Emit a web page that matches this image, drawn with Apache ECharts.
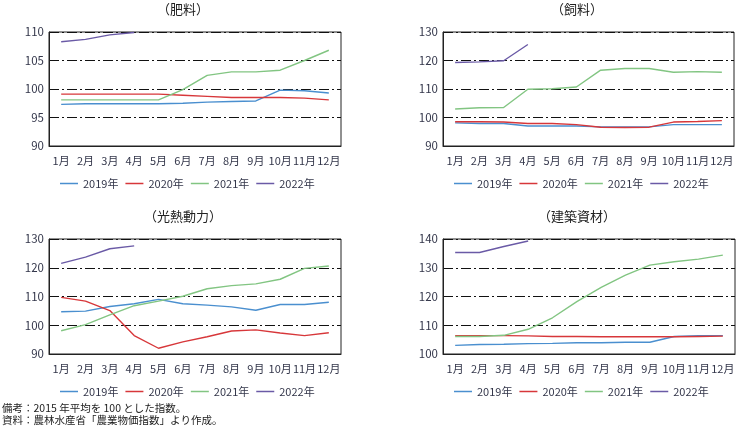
<!DOCTYPE html>
<html>
<head>
<meta charset="utf-8">
<script src="https://cdn.jsdelivr.net/npm/echarts@6/dist/echarts.min.js"></script>
<style>
    html, body { margin: 0; padding: 0; background: #fff; }
    #chart { width: 738px; height: 428px; }
</style>
</head>
<body>
<div id="chart"></div>
<script>
var months = ['1月','2月','3月','4月','5月','6月','7月','8月','9月','10月','11月','12月'];
var years = ['2019年','2020年','2021年','2022年'];
var colors = ['#4a8fcf','#d7373a','#82c582','#6a5aa6'];

// 肥料
var hiryo2019 = [97.3,97.4,97.4,97.4,97.4,97.5,97.7,97.8,97.9,99.8,99.7,99.3];
var hiryo2020 = [99.1,99.1,99.1,99.1,99.1,98.9,98.7,98.5,98.5,98.5,98.4,98.1];
var hiryo2021 = [98.1,98.1,98.1,98.1,98.1,99.9,102.4,103.0,103.0,103.3,105.0,106.8];
var hiryo2022 = [108.3,108.7,109.5,109.9];

// 飼料
var shiryo2019 = [98.1,97.9,97.9,97.0,97.0,97.0,96.7,96.7,96.7,97.5,97.5,97.5];
var shiryo2020 = [98.5,98.5,98.4,97.9,97.9,97.5,96.6,96.5,96.6,98.4,98.6,98.9];
var shiryo2021 = [103.0,103.4,103.5,109.9,110.1,110.7,116.6,117.2,117.2,115.9,116.1,115.9];
var shiryo2022 = [119.3,119.5,119.9,125.6];

// 光熱動力
var kone2019 = [104.7,104.9,106.5,107.5,109.0,107.5,107.0,106.4,105.2,107.2,107.2,108.0];
var kone2020 = [109.7,108.4,105.1,96.4,92.0,94.2,96.0,98.0,98.4,97.3,96.4,97.4];
var kone2021 = [98.1,100.2,103.6,106.8,108.4,110.1,112.7,113.8,114.4,116.0,119.8,120.6];
var kone2022 = [121.5,123.7,126.6,127.6];

// 建築資材
var kenchiku2019 = [103.0,103.3,103.4,103.6,103.7,103.9,103.9,104.1,104.1,106.1,106.4,106.4];
var kenchiku2020 = [106.4,106.4,106.4,106.3,106.1,106.1,106.0,106.0,106.0,106.0,106.1,106.2];
var kenchiku2021 = [106.1,106.1,106.5,108.6,112.6,118.2,123.2,127.4,130.9,132.1,133.0,134.4];
var kenchiku2022 = [135.3,135.3,137.4,139.3];

var yMin = [90, 90, 90, 100];
var yMax = [110, 130, 130, 140];
var yStep = [5, 10, 10, 10];
var titles = ['（肥料）','（飼料）','（光熱動力）','（建築資材）'];
var panelData = [
    [hiryo2019, hiryo2020, hiryo2021, hiryo2022],
    [shiryo2019, shiryo2020, shiryo2021, shiryo2022],
    [kone2019, kone2020, kone2021, kone2022],
    [kenchiku2019, kenchiku2020, kenchiku2021, kenchiku2022]
];

var font = '"Noto Sans CJK JP", "Noto Sans", sans-serif';
var textColor = '#33364a';
var grids = [
    {left: 49, top: 32, width: 292, height: 114},
    {left: 443, top: 32, width: 291, height: 114},
    {left: 49, top: 239, width: 292, height: 115},
    {left: 443, top: 239, width: 292, height: 115}
];
var titlePos = [[183, 3], [577, 3], [183, 210], [577, 210]];
var legendPos = [[60, 178], [454, 178], [60, 386], [454, 386]];

var option = {
    animation: false,
    textStyle: { fontFamily: font },
    title: [],
    legend: [],
    grid: [],
    xAxis: [],
    yAxis: [],
    series: [],
    graphic: [{
        type: 'text', left: 2, top: 402,
        style: {
            text: '備考：2015 年平均を 100 とした指数。\n資料：農林水産省「農業物価指数」より作成。',
            font: '10.5px ' + font, fill: '#222', lineHeight: 12
        }
    }]
};

grids.forEach(function (g, i) {
    option.grid.push({
        left: g.left, top: g.top, width: g.width, height: g.height,
        show: true, borderColor: '#222', borderWidth: 1, backgroundColor: 'transparent'
    });
    option.title.push({
        text: titles[i], left: titlePos[i][0], top: titlePos[i][1], textAlign: 'center', padding: 0,
        textStyle: { fontSize: 13, fontWeight: 'normal', color: '#222', fontFamily: font }
    });
    option.legend.push({
        data: years, left: legendPos[i][0], top: legendPos[i][1], padding: 0,
        icon: 'rect', itemWidth: 18, itemHeight: 1.5, itemGap: 7,
        textStyle: { fontSize: 11, color: textColor, fontFamily: font }
    });
    option.xAxis.push({
        type: 'category', gridIndex: i, data: months, boundaryGap: true,
        axisLine: { lineStyle: { color: '#222' } },
        axisTick: { show: false },
        axisLabel: { color: textColor, fontSize: 11, margin: 9, interval: 0 }
    });
    option.yAxis.push({
        type: 'value', gridIndex: i, min: yMin[i], max: yMax[i], interval: yStep[i],
        axisLine: { show: true, lineStyle: { color: '#222' } },
        axisTick: { show: false },
        axisLabel: { color: textColor, fontSize: 11.5, margin: 5 },
        splitLine: { show: true, lineStyle: { color: '#111', width: 1, type: [10, 3, 2, 3] } }
    });
    panelData[i].forEach(function (d, k) {
        option.series.push({
            name: years[k], type: 'line', xAxisIndex: i, yAxisIndex: i,
            data: d, symbol: 'none', color: colors[k],
            lineStyle: { width: 1.4, color: colors[k] }
        });
    });
});

var myChart = echarts.init(document.getElementById('chart'));
myChart.setOption(option);
</script>
</body>
</html>
